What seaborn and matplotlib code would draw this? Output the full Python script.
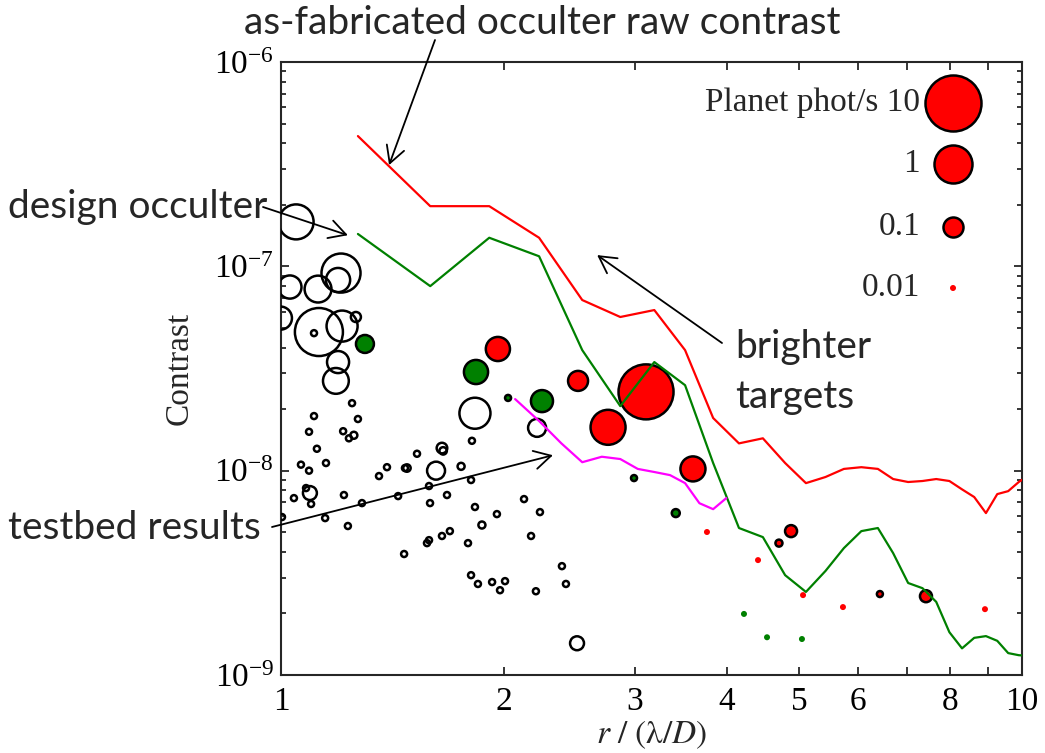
import numpy as np
import matplotlib
matplotlib.use("Agg")
import matplotlib.pyplot as plt
import seaborn as sns
from matplotlib.ticker import FixedLocator, FixedFormatter, NullLocator, NullFormatter, LogLocator, LogFormatterMathtext

# ---------------------------------------------------------------- data
# separation grid (lambda/D) for the occulter model curves
model_r = [1.27, 1.59, 1.91, 2.23, 2.55, 2.87, 3.19, 3.51, 3.83, 4.15, 4.47, 4.79,
           5.11, 5.43, 5.75, 6.07, 6.39, 6.70, 7.02, 7.34, 7.66, 7.98, 8.30, 8.62,
           8.94, 9.26, 9.58, 9.90, 10.22]
fab_contrast = [4.34e-7, 1.97e-7, 1.97e-7, 1.38e-7, 6.84e-8, 5.65e-8, 6.11e-8, 3.89e-8,
                1.81e-8, 1.36e-8, 1.44e-8, 1.09e-8, 8.69e-9, 9.31e-9, 1.02e-8, 1.04e-8,
                1.02e-8, 9.1e-9, 8.8e-9, 8.9e-9, 9.1e-9, 8.9e-9, 8.1e-9, 7.43e-9,
                6.2e-9, 7.68e-9, 7.94e-9, 8.8e-9, 9.5e-9]
design_contrast = [1.44e-7, 8.0e-8, 1.38e-7, 1.12e-7, 3.89e-8, 2.07e-8, 3.4e-8, 2.62e-8,
                   1.09e-8, 5.24e-9, 4.73e-9, 3.08e-9, 2.55e-9, 3.23e-9, 4.18e-9, 5.06e-9,
                   5.24e-9, 3.95e-9, 2.82e-9, 2.66e-9, 2.28e-9, 1.62e-9, 1.35e-9, 1.52e-9,
                   1.55e-9, 1.47e-9, 1.28e-9, 1.25e-9, 1.24e-9]

# laboratory testbed contrast curve
testbed_r = [2.07, 2.23, 2.39, 2.55, 2.71, 2.87, 3.03, 3.19, 3.35, 3.51, 3.67, 3.83, 3.99]
testbed_contrast = [2.24e-8, 1.75e-8, 1.36e-8, 1.10e-8, 1.17e-8, 1.14e-8, 1.02e-8,
                    9.85e-9, 9.51e-9, 8.69e-9, 6.93e-9, 6.48e-9, 7.34e-9]

# known targets (open black circles): separation, contrast, planet phot/s
known_r = [1.048, 1.205, 1.194, 1.028, 1.122, 0.998, 1.125, 1.209, 1.262, 1.108, 1.194,
           1.186, 1.827, 2.216, 1.649, 1.655, 1.619, 1.75, 1.094, 2.509, 1.254, 1.479,
           1.867,
           1.247, 1.108, 1.27, 1.091, 1.213, 1.235, 1.118, 1.064, 1.091, 1.15, 1.081,
           1.041, 1.098, 1.216, 1.286, 1.147, 1.003, 1.231, 1.356, 1.39, 1.47, 1.439,
           1.466, 1.81, 1.526, 1.584, 1.805, 1.675, 1.589, 1.827, 1.956, 2.128, 2.236,
           1.69, 1.649, 1.584, 1.574, 2.175, 1.788, 1.805, 1.844, 1.927, 2.006, 1.975,
           2.208, 2.394, 2.424]
known_c = [1.65e-7, 9.27e-8, 8.57e-8, 7.92e-8, 7.74e-8, 5.58e-8, 4.77e-8, 5.1e-8, 5.65e-8,
           4.71e-8, 3.4e-8, 2.75e-8, 1.91e-8, 1.62e-8, 1.29e-8, 1.25e-8, 1.0e-8, 1.05e-8,
           7.77e-9, 1.43e-9, 1.49e-8, 1.03e-8, 5.42e-9,
           2.14e-8, 1.85e-8, 1.79e-8, 1.55e-8, 1.56e-8, 1.44e-8, 1.28e-8, 1.07e-8, 1.0e-8,
           1.09e-8, 8.22e-9, 7.34e-9, 6.87e-9, 7.6e-9, 6.94e-9, 5.86e-9, 5.93e-9, 5.36e-9,
           9.41e-9, 1.04e-8, 1.03e-8, 7.51e-9, 3.91e-9, 1.4e-8, 1.21e-8, 8.41e-9, 9.0e-9,
           7.6e-9, 6.94e-9, 6.64e-9, 6.13e-9, 7.26e-9, 6.27e-9, 5.06e-9, 4.79e-9, 4.57e-9,
           4.42e-9, 4.79e-9, 4.42e-9, 3.08e-9, 2.79e-9, 2.85e-9, 2.88e-9, 2.6e-9, 2.57e-9,
           3.41e-9, 2.79e-9]
known_phot = [0.68, 1.14, 0.17, 0.15, 0.24, 0.15, 3.6, 0.41, 0.028, 0.015, 0.13, 0.21,
              0.41, 0.077, 0.03, 0.02, 0.077, 0.019, 0.046, 0.046, 0.019, 0.02, 0.019] + \
             [0.0167] * 47

# green targets (filled, outlined)
green_r = [1.298, 1.833, 2.25, 2.025, 2.995, 3.41]
green_c = [4.17e-8, 3.04e-8, 2.19e-8, 2.27e-8, 9.2e-9, 6.2e-9]
green_phot = [0.077, 0.17, 0.13, 0.0167, 0.0167, 0.0215]

# red targets (filled, outlined)
red_r = [1.962, 2.517, 3.109, 2.763, 3.597, 4.879, 4.699, 6.43, 7.42]
red_c = [3.94e-8, 2.75e-8, 2.43e-8, 1.63e-8, 1.02e-8, 5.06e-9, 4.42e-9, 2.49e-9, 2.43e-9]
red_phot = [0.17, 0.1, 8.8, 0.68, 0.19, 0.036, 0.019, 0.0167, 0.036]

# faint targets (no outline)
faint_red_r = [3.757, 4.403, 5.064, 5.733, 8.913]
faint_red_c = [5.01e-9, 3.65e-9, 2.46e-9, 2.15e-9, 2.1e-9]
faint_green_r = [4.215, 4.528, 5.047]
faint_green_c = [1.99e-9, 1.53e-9, 1.5e-9]

legend_phot = [10, 1, 0.1, 0.01]
legend_labels = ["Planet phot/s 10", "1", "0.1", "0.01"]

x_ticks = [1, 2, 3, 4, 5, 6, 7, 8, 9, 10]
x_ticklabels = ["1", "2", "3", "4", "5", "6", "", "8", "", "10"]

# ---------------------------------------------------------------- style
sns.set_style("ticks")
plt.rcParams["font.family"] = ["Liberation Serif", "DejaVu Serif"]
plt.rcParams["mathtext.fontset"] = "stix"
SANS = ["Lato", "DejaVu Sans"]
SANS_SIZE = 28

DPI = 100
W, H = 1045, 753


def marker_area(phot):
    """Scatter area (pt^2) for a planet photon rate."""
    d_px = np.maximum(38.0 + 18.0 * np.log10(np.asarray(phot, dtype=float)), 6.0)
    return (d_px * 72.0 / DPI) ** 2


fig = plt.figure(figsize=(W / DPI, H / DPI), dpi=DPI)
ax = fig.add_axes([281 / W, 1 - 675 / H, (1022 - 281) / W, (675 - 62) / H])
ax.set_xscale("log")
ax.set_yscale("log")

EDGE_LW = 1.8

sns.scatterplot(x=known_r, y=known_c, s=marker_area(known_phot), facecolors="none",
                edgecolor="black", linewidth=EDGE_LW, ax=ax, legend=False, zorder=3)
sns.scatterplot(x=green_r, y=green_c, s=marker_area(green_phot), color="#008000",
                edgecolor="black", linewidth=EDGE_LW, ax=ax, legend=False, zorder=3)
sns.scatterplot(x=red_r, y=red_c, s=marker_area(red_phot), color="#ff0000",
                edgecolor="black", linewidth=EDGE_LW, ax=ax, legend=False, zorder=3)
sns.scatterplot(x=faint_red_r, y=faint_red_c, s=marker_area([0.01] * len(faint_red_r)),
                color="#ff0000", linewidth=0, ax=ax, legend=False, zorder=3)
sns.scatterplot(x=faint_green_r, y=faint_green_c, s=marker_area([0.01] * len(faint_green_r)),
                color="#008000", linewidth=0, ax=ax, legend=False, zorder=3)

sns.lineplot(x=model_r, y=fab_contrast, color="#ff0000", linewidth=1.6, ax=ax,
             estimator=None, sort=False, zorder=4)
sns.lineplot(x=model_r, y=design_contrast, color="#008000", linewidth=1.6, ax=ax,
             estimator=None, sort=False, zorder=4)
sns.lineplot(x=testbed_r, y=testbed_contrast, color="#ff00ff", linewidth=1.6, ax=ax,
             estimator=None, sort=False, zorder=4)

ax.set_xlim(1, 10)
ax.set_ylim(1e-9, 1e-6)

# axes, ticks and labels
for sp in ax.spines.values():
    sp.set_linewidth(1.5)
    sp.set_visible(True)
ax.xaxis.set_major_locator(FixedLocator(x_ticks))
ax.xaxis.set_major_formatter(FixedFormatter(x_ticklabels))
ax.xaxis.set_minor_locator(NullLocator())
ax.yaxis.set_major_locator(LogLocator(base=10, numticks=10))
ax.yaxis.set_major_formatter(LogFormatterMathtext())
ax.yaxis.set_minor_locator(LogLocator(base=10, subs=np.arange(2, 10), numticks=20))
ax.yaxis.set_minor_formatter(NullFormatter())
ax.tick_params(which="both", direction="in", top=True, right=True, width=1.1,
               labelsize=24, colors="black")
ax.tick_params(which="major", length=6)
ax.tick_params(which="minor", length=3.5)
ax.tick_params(axis="x", which="major", pad=8)
ax.tick_params(axis="y", which="major", pad=5)

ax.set_xlabel(r"$r\ /\ (\mathrm{\lambda}/D)$", fontsize=24, labelpad=1)
ax.set_ylabel("Contrast", fontsize=24, labelpad=14)

# photon-rate key
leg_x = (953 - 281) / (1022 - 281)
leg_y = [(675 - py) / (675 - 62) for py in (103, 164, 227, 288)]
text_x = (920 - 281) / (1022 - 281)
for ph, lab, yy in zip(legend_phot, legend_labels, leg_y):
    edged = ph > 0.01
    ax.scatter([leg_x], [yy], s=marker_area([ph]), color="#ff0000",
               edgecolor="black" if edged else "none",
               linewidth=EDGE_LW if edged else 0, transform=ax.transAxes,
               zorder=5, clip_on=False)
    ax.text(text_x, yy - 8.5 / 613, lab, transform=ax.transAxes, ha="right",
            va="baseline", fontsize=24)

# annotations
ARROW = dict(arrowstyle="->,head_length=0.6,head_width=0.33", lw=1.3,
             color="black", shrinkA=0, shrinkB=0, mutation_scale=20)


def fig_px(x, y):
    return (x, H - y)


def note(tip, tail):
    ax.annotate("", xy=tip, xycoords="data", xytext=fig_px(*tail),
                textcoords="figure pixels", arrowprops=ARROW, annotation_clip=False,
                zorder=6)


fig.text(542 / W, 1 - 34 / H, "as-fabricated occulter raw contrast", ha="center",
         va="baseline", fontsize=SANS_SIZE, family=SANS)
note((1.399, 3.13e-7), (435, 40))

fig.text(8 / W, 1 - 218 / H, "design occulter", ha="left", va="baseline",
         fontsize=SANS_SIZE, family=SANS)
note((1.231, 1.42e-7), (263, 207))

fig.text(735 / W, 1 - 358 / H, "brighter", ha="left", va="baseline",
         fontsize=SANS_SIZE, family=SANS)
fig.text(735 / W, 1 - 408 / H, "targets", ha="left", va="baseline",
         fontsize=SANS_SIZE, family=SANS)
note((2.671, 1.135e-7), (722, 343))

fig.text(8 / W, 1 - 539 / H, "testbed results", ha="left", va="baseline",
         fontsize=SANS_SIZE, family=SANS)
note((2.328, 1.19e-8), (272, 527))

fig.savefig("out.png", dpi=DPI, facecolor="white")
